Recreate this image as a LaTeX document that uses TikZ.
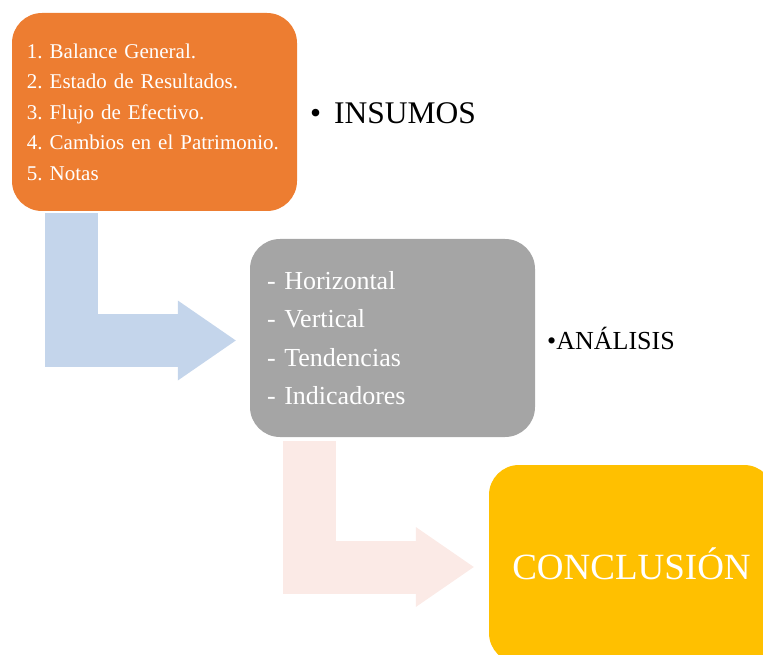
\documentclass[tikz,border=0pt]{standalone}
\usepackage{fontspec}
\setmainfont{Liberation Serif}
\usepackage{tikz}
\usetikzlibrary{arrows.meta, positioning, calc}
\usepackage{xcolor}
\definecolor{boxorange}{HTML}{ED7D31}
\definecolor{boxgray}{HTML}{A5A5A5}
\definecolor{boxyellow}{HTML}{FFC000}
\definecolor{arrblue}{HTML}{C4D5EB}
\definecolor{arrpink}{HTML}{FBEAE6}
\frenchspacing

\begin{document}
\begin{tikzpicture}[
  x=1pt, y=-1pt,
  block/.style={rounded corners=30pt, minimum width=285pt,
    minimum height=198pt, text=white, inner sep=0pt},
  listbox/.style={block, align=left, text width=255pt},
  bigarr/.style={line width=53pt,
    -{Triangle[length=58pt, width=80pt, line width=0pt]}},
  tag/.style={anchor=west, inner sep=0pt, text=black}
]
  \useasboundingbox (0,0) rectangle (763,655);
  \clip (0,0) rectangle (763,655);

  % Stage 1: Insumos
  \node[listbox, fill=boxorange, font=\fontsize{21}{30.5}\selectfont] (insumos) at (154.5, 112)
    {1. Balance General.\\2. Estado de Resultados.\\3. Flujo de Efectivo.\\4. Cambios en el Patrimonio.\\5. Notas};

  % Stage 2: Analisis
  \node[listbox, fill=boxgray, text width=251pt, font=\fontsize{26}{38.3}\selectfont] (analisis) at (392.5, 338)
    {- Horizontal\\- Vertical\\- Tendencias\\- Indicadores};

  % Stage 3: Conclusion
  \node[block, fill=boxyellow, font=\fontsize{37}{40}\selectfont] (conclusion) at (631.5, 564)
    {CONCLUSIÓN};

  % Arrows
  \draw[bigarr, arrblue] ([xshift=59.5pt, yshift=-2pt]insumos.south west)
    |- ([xshift=-14pt, yshift=-2.5pt]analisis.west);
  \draw[bigarr, arrpink] ([xshift=60pt, yshift=-4pt]analisis.south west)
    |- ([xshift=-15pt, yshift=-3pt]conclusion.west);

  % Labels
  \node[tag, font=\fontsize{31.5}{33}\selectfont] (lblinsumos) at (310, 113)
    {\textbullet\hspace{13pt}INSUMOS};
  \node[tag, font=\fontsize{26}{28}\selectfont] (lblanalisis) at (547, 338)
    {\textbullet ANÁLISIS};
\end{tikzpicture}
\end{document}
